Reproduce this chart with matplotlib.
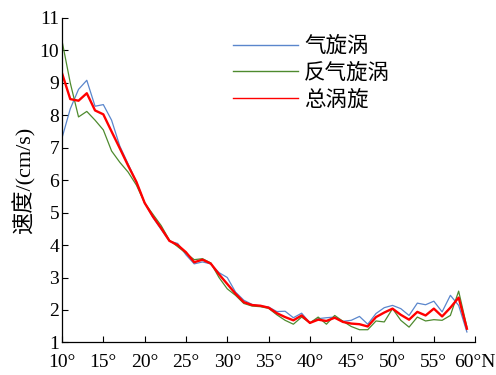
import matplotlib
matplotlib.use("Agg")
import matplotlib.pyplot as plt
import numpy as np

plt.rcParams['font.family'] = ['Liberation Serif', 'Noto Sans CJK SC']
plt.rcParams['axes.unicode_minus'] = False

# Latitude (°N) and mean eddy speed (cm/s)
lat = list(range(10, 60))

cyclonic = [7.3, 8.2, 8.8, 9.08, 8.28, 8.33, 7.85, 7.05, 6.5, 5.95,
            5.3, 4.85, 4.48, 4.12, 4.05, 3.7, 3.42, 3.48, 3.42, 3.15,
            3.0, 2.55, 2.3, 2.17, 2.12, 2.09, 1.95, 1.96, 1.76, 1.9,
            1.6, 1.73, 1.76, 1.78, 1.65, 1.68, 1.8, 1.56, 1.89, 2.07,
            2.14, 2.04, 1.83, 2.21, 2.16, 2.27, 1.94, 2.45, 2.14, 1.32]

anticyclonic = [10.3, 9.0, 7.95, 8.12, 7.85, 7.55, 6.9, 6.55, 6.25, 5.85,
                5.3, 4.95, 4.6, 4.15, 3.95, 3.75, 3.55, 3.58, 3.45, 3.0,
                2.65, 2.45, 2.2, 2.12, 2.1, 2.05, 1.85, 1.68, 1.56, 1.78,
                1.6, 1.78, 1.56, 1.83, 1.65, 1.49, 1.39, 1.39, 1.66, 1.63,
                2.04, 1.68, 1.47, 1.78, 1.66, 1.7, 1.68, 1.83, 2.58, 1.47]

total = [9.3, 8.5, 8.45, 8.68, 8.15, 8.03, 7.5, 6.98, 6.45, 5.95,
         5.3, 4.88, 4.52, 4.13, 4.0, 3.78, 3.47, 3.55, 3.43, 3.1,
         2.8, 2.5, 2.24, 2.15, 2.13, 2.07, 1.9, 1.78, 1.68, 1.83,
         1.6, 1.7, 1.66, 1.76, 1.63, 1.58, 1.56, 1.49, 1.78, 1.92,
         2.04, 1.85, 1.7, 1.94, 1.83, 2.04, 1.8, 2.07, 2.38, 1.42]

series_names = ['气旋涡', '反气旋涡', '总涡旋']

xticks = [10, 15, 20, 25, 30, 35, 40, 45, 50, 55, 60]
xticklabels = ['10°', '15°', '20°', '25°', '30°', '35°', '40°', '45°', '50°', '55°', '60°N']
yticks = list(range(1, 12))

fig = plt.figure(figsize=(4.96, 3.75), dpi=100)
ax = fig.add_axes([0.125, 0.087, 0.833, 0.865])

ax.plot(lat, cyclonic, color='#5A86CC', lw=0.9, label=series_names[0])
ax.plot(lat, anticyclonic, color='#4E8A2E', lw=0.9, label=series_names[1])
ax.plot(lat, total, color='#FF0000', lw=1.7, label=series_names[2])

ax.set_xlim(10, 60)
ax.set_ylim(1, 11)
ax.set_xticks(xticks)
ax.set_xticklabels(xticklabels)
ax.set_yticks(yticks)
ax.tick_params(direction='in', length=4.5, width=0.8, labelsize=14)
ax.tick_params(axis='x', pad=8.5)
ax.tick_params(axis='y', pad=2)
ax.spines['top'].set_visible(False)
ax.spines['right'].set_visible(False)
for s in ('left', 'bottom'):
    ax.spines[s].set_linewidth(0.9)

ax.set_ylabel('速度/(cm/s)', fontsize=16, labelpad=3)

leg = ax.legend(loc='upper left', bbox_to_anchor=(0.393, 0.968), frameon=False,
                fontsize=15.5, handlelength=3.0, handletextpad=0.3,
                labelspacing=0.3, borderaxespad=0)
for h in leg.get_lines():
    h.set_linewidth(1.0)

fig.savefig('out.png', dpi=100)
